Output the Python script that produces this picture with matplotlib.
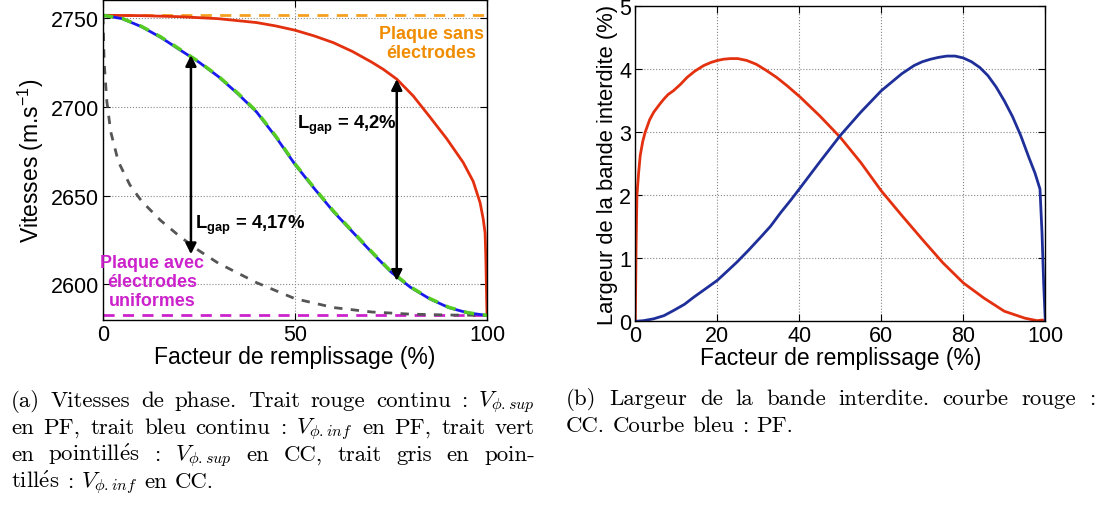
import matplotlib
matplotlib.use('Agg')
import matplotlib.pyplot as plt

plt.rcParams['font.family'] = ['Liberation Sans', 'DejaVu Sans']
plt.rcParams['mathtext.fontset'] = 'custom'
plt.rcParams['mathtext.rm'] = 'Liberation Sans'
plt.rcParams['mathtext.it'] = 'Liberation Sans:italic'
plt.rcParams['mathtext.bf'] = 'Liberation Sans:bold'

# (a) phase velocities vs filling factor
x_sup_pf = [0, 10, 20, 30, 40, 45, 50, 55, 60, 65, 70, 73, 76.5, 80.8, 85.2, 89.5,
            93.8, 96.4, 98.2, 99, 99.5, 99.7, 99.85, 100]
v_sup_pf = [2751.4, 2751.2, 2750.6, 2749.5, 2747.3, 2745.4, 2743.0, 2739.8, 2736.0,
            2731.0, 2725.0, 2721.0, 2715.5, 2706.0, 2694.0, 2682.0, 2668.6, 2658.0,
            2646.0, 2637.0, 2629.0, 2615.0, 2598.0, 2582.6]

x_inf_pf = [0, 5, 10, 15, 20, 25, 30, 35, 40, 45, 50, 55, 60, 65, 70, 75, 80, 85, 90, 95, 100]
v_inf_pf = [2751.4, 2749.5, 2745.0, 2739.0, 2732.0, 2725.0, 2717.0, 2707.5, 2697.0, 2683.0,
            2667.5, 2654.0, 2641.0, 2629.5, 2618.0, 2607.0, 2598.5, 2592.0, 2587.0, 2584.0, 2582.6]

x_sup_cc = x_inf_pf
v_sup_cc = [2751.4, 2749.6, 2745.2, 2739.3, 2732.3, 2725.2, 2717.2, 2707.8, 2697.3, 2683.4,
            2667.8, 2654.3, 2641.3, 2629.8, 2618.3, 2607.3, 2598.7, 2592.2, 2587.2, 2584.1, 2582.6]

x_inf_cc = [0, 0.3, 1, 2, 4, 7, 10, 15, 20, 25, 30, 40, 50, 60, 70, 80, 90, 100]
v_inf_cc = [2751.0, 2725.0, 2703.0, 2686.0, 2669.0, 2656.0, 2647.0, 2636.0, 2627.0, 2619.0,
            2612.0, 2601.0, 2592.0, 2587.0, 2584.5, 2583.3, 2582.8, 2582.6]

v_without_elec = 2751.4
v_uniform_elec = 2582.6

# gap arrows: x position, top and bottom velocity
gap_x = [22.9, 76.5]
gap_top = [2729.0, 2715.5]
gap_bot = [2617.0, 2602.0]

# (b) band gap width
x_gap_cc = [0, 0.2, 0.4, 0.8, 1.2, 1.8, 2.4, 3.5, 4.5, 6, 7, 8, 9.3, 11, 12.6, 14.5,
            16.7, 18.5, 20, 21.5, 23.2, 25, 27.2, 29.5, 32, 34.5, 37, 40.2, 45, 50,
            55, 60, 65, 70, 75, 80, 85, 90, 95, 98, 99.3, 100]
w_gap_cc = [0, 1.2, 2.0, 2.35, 2.63, 2.85, 3.0, 3.2, 3.32, 3.45, 3.53, 3.6, 3.66, 3.76,
            3.87, 3.97, 4.06, 4.11, 4.14, 4.16, 4.17, 4.17, 4.14, 4.08, 3.98, 3.87,
            3.74, 3.56, 3.26, 2.92, 2.52, 2.07, 1.68, 1.3, 0.93, 0.61, 0.37, 0.16,
            0.05, 0.01, 0.02, 0]

x_gap_pf = [0, 2, 4.5, 7, 9.3, 12, 14.2, 17, 20, 22.5, 24.8, 27.5, 30.5, 33, 35.4, 38,
            40, 45, 50, 55, 60, 65, 68, 70, 72, 74, 76, 78, 80, 82, 84, 86, 88, 90,
            92, 94, 96, 97.5, 98.7, 99.2, 99.6, 100]
w_gap_pf = [0, 0.01, 0.04, 0.09, 0.17, 0.27, 0.38, 0.51, 0.65, 0.8, 0.94, 1.12, 1.33,
            1.51, 1.72, 1.93, 2.1, 2.53, 2.95, 3.32, 3.66, 3.93, 4.06, 4.12, 4.16,
            4.19, 4.21, 4.21, 4.18, 4.12, 4.03, 3.9, 3.72, 3.5, 3.25, 2.95, 2.6, 2.35,
            2.1, 1.4, 0.6, 0]

red = '#e3300f'
grid_kw = dict(color='#888888', linestyle=':', linewidth=0.8)

W, H = 1096, 506
fig = plt.figure(figsize=(W / 100, H / 100), dpi=100)
ax1 = fig.add_axes([103 / W, 1 - 321 / H, 384 / W, 320 / H])
ax2 = fig.add_axes([635.3 / W, 1 - 322.3 / H, 410 / W, 315 / H])

# ---- left panel
ax1.axhline(v_without_elec, color='#f5a020', linestyle='--', linewidth=2, dashes=(4, 3))
ax1.axhline(v_uniform_elec, color='#cc22cc', linestyle='--', linewidth=2, dashes=(4, 3))
ax1.plot(x_inf_cc, v_inf_cc, color='#555555', linestyle='--', linewidth=2, dashes=(3, 3))
ax1.plot(x_sup_pf, v_sup_pf, color=red, linewidth=2)
ax1.plot(x_inf_pf, v_inf_pf, color='#1a1aee', linewidth=2)
ax1.plot(x_sup_cc, v_sup_cc, color='#55cc22', linestyle='--', linewidth=2.5, dashes=(3, 2.5))

for gx, gt, gb in zip(gap_x, gap_top, gap_bot):
    ax1.annotate('', xy=(gx, gb), xytext=(gx, gt),
                 arrowprops=dict(arrowstyle='<|-|>', color='black', lw=1.8,
                                 mutation_scale=16, shrinkA=0, shrinkB=0))

ax1.text(23.9, 2634, r'$\mathbf{L_{gap}}$ = 4,17%', fontsize=13.3, fontweight='bold',
         va='center', ha='left')
ax1.text(50.4, 2690, r'$\mathbf{L_{gap}}$ = 4,2%', fontsize=13.3, fontweight='bold',
         va='center', ha='left')
ax1.text(85.5, 2736, 'Plaque sans\nélectrodes', color='#f08c00', fontsize=12.9,
         fontweight='bold', ha='center', va='center', linespacing=1.15)
ax1.text(12.8, 2601.5, 'Plaque avec\nélectrodes\nuniformes', color='#cc22cc',
         fontsize=12.9, fontweight='bold', ha='center', va='center', linespacing=1.15)

ax1.set_xlim(0, 100)
ax1.set_ylim(2580, 2760)
ax1.set_xticks([0, 50, 100])
ax1.set_yticks([2600, 2650, 2700, 2750])
ax1.set_xlabel('Facteur de remplissage (%)', fontsize=16.5, labelpad=0)
ax1.set_ylabel(r'Vitesses (m.s$^{-1}$)', fontsize=16.5, labelpad=3)

# ---- right panel
ax2.plot(x_gap_cc, w_gap_cc, color=red, linewidth=2)
ax2.plot(x_gap_pf, w_gap_pf, color='#1f2f99', linewidth=2)
ax2.set_xlim(0, 100)
ax2.set_ylim(0, 5)
ax2.set_xticks(range(0, 101, 20))
ax2.set_yticks(range(0, 6))
ax2.set_xlabel('Facteur de remplissage (%)', fontsize=16.5, labelpad=0)
ax2.set_ylabel('Largeur de la bande interdite (%)', fontsize=15.8, labelpad=1)

for ax in (ax1, ax2):
    ax.grid(True, **grid_kw)
    ax.tick_params(direction='in', top=True, right=True, labelsize=15.5, length=5, pad=3)
    for s in ax.spines.values():
        s.set_linewidth(1.0)

# ---- captions (justified like the LaTeX source)
cap_size = 16.5
cap_font = dict(family='cmr10', fontsize=cap_size, math_fontfamily='cm')
left_lines = [
    r'(a) Vitesses de phase. Trait rouge continu : $V_{\phi{.}sup}$',
    r'en PF, trait bleu continu : $V_{\phi{.}inf}$ en PF, trait vert',
    r'en $\mathrm{pointill\acute{e}s}$ : $V_{\phi{.}sup}$ en CC, trait gris en poin-',
    r'$\mathrm{till\acute{e}s}$ : $V_{\phi{.}inf}$ en CC.',
]
right_lines = [
    r'(b) Largeur de la bande interdite. courbe rouge :',
    r'CC. Courbe bleu : PF.',
]

renderer = fig.canvas.get_renderer()


def caption(lines, x0, x1, y0, step):
    for i, line in enumerate(lines):
        words = line.split(' ')
        y = 1 - (y0 + i * step) / H
        texts = [fig.text(0, y, w, va='baseline', ha='left', **cap_font) for w in words]
        widths = [t.get_window_extent(renderer).width for t in texts]
        if i < len(lines) - 1 and len(words) > 1:
            gap = (x1 - x0 - sum(widths)) / (len(words) - 1)
        else:
            gap = cap_size * 100 / 72 * 0.333
        x = x0
        for t, w in zip(texts, widths):
            t.set_x(x / W)
            x += w + gap


caption(left_lines, 11, 535, 406.7, 27.2)
caption(right_lines, 566, 1095, 405, 27.2)

fig.savefig('out.png', dpi=100)
